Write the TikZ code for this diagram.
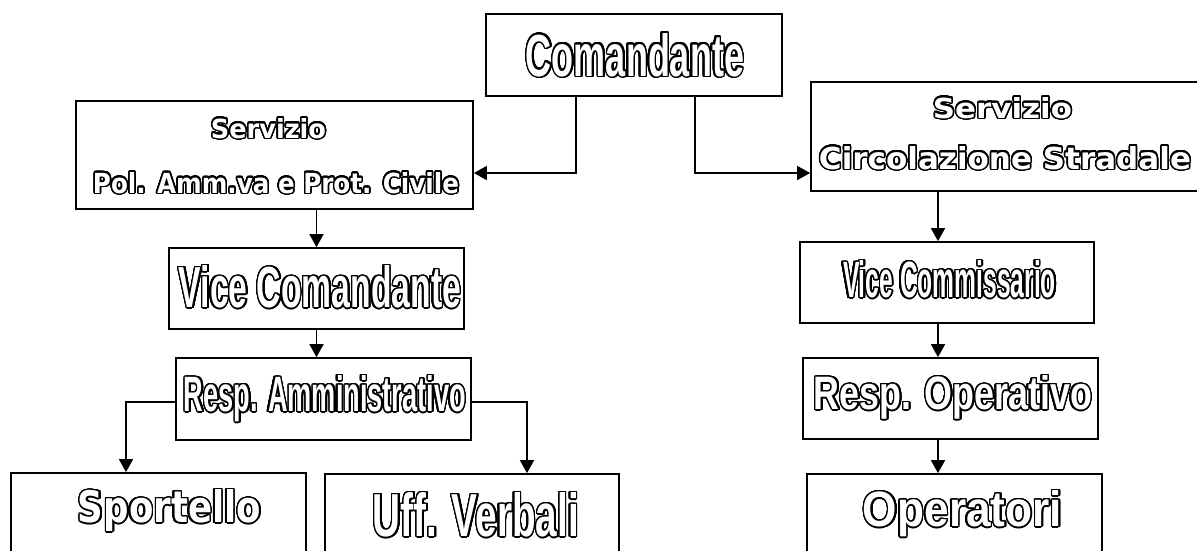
\documentclass[tikz,border=0pt]{standalone}
\usepackage{fontspec}
\usepackage{graphicx}
\usepackage[copies]{contour}
\usetikzlibrary{arrows.meta}
\newfontfamily\condfont{Liberation Sans}
\newfontfamily\widefont{DejaVu Sans}
\contourlength{1.5pt}
\contournumber{32}
% outlined text : width, height, raise, shift, text
\newcommand{\outl}[5]{\makebox[0pt]{\hspace*{#4}\raisebox{#3}[0pt][0pt]{\color{white}\contour{black}{\resizebox{#1}{#2}{#5}}}}}
\newcommand{\ctxt}[5]{\outl{#1}{#2}{#3}{#4}{\condfont\bfseries #5}}
\newcommand{\wtxt}[5]{\outl{#1}{#2}{#3}{#4}{\widefont\bfseries #5}}

\begin{document}
\begin{tikzpicture}[x=1pt,y=-1pt,
  box/.style={draw, line width=1.7pt, inner sep=0pt, minimum width=295pt, minimum height=82pt},
  conn/.style={line width=1.6pt, -{Triangle[length=13pt,width=14pt]}}]
\useasboundingbox (0,0) rectangle (1197,550);
\clip (0,0) rectangle (1197,550);
\node[box, minimum width=296pt] (com) at (634,55) {\ctxt{218pt}{43pt}{-21pt}{2pt}{Comandante}};
\node[box, minimum width=397pt, minimum height=108pt] (pol) at (274.5,155) {%
  \wtxt{115pt}{20pt}{17pt}{-12pt}{Servizio}%
  \wtxt{366pt}{21pt}{-38pt}{3pt}{Pol. Amm.va e Prot. Civile}};
\node[box, minimum width=388pt, minimum height=109pt] (circ) at (1005,136.5) {%
  \wtxt{139pt}{21pt}{18.5pt}{-5pt}{Servizio}%
  \wtxt{372pt}{23pt}{-32.5pt}{0pt}{Circolazione Stradale}};
\node[box, minimum height=81pt] (vcom) at (316.5,288.5) {\ctxt{282pt}{42pt}{-19pt}{7pt}{Vice Comandante}};
\node[box] (ramm) at (323.5,399) {\ctxt{282pt}{36pt}{-12.5pt}{3pt}{Resp. Amministrativo}};
\node[box] (spo) at (158.5,514) {\wtxt{183pt}{33pt}{-8.5pt}{22pt}{Sportello}};
\node[box, minimum width=294pt] (uff) at (472,515) {\ctxt{206pt}{44pt}{-21.5pt}{8pt}{Uff. Verbali}};
\node[box, minimum width=294pt, minimum height=81pt] (vcomm) at (947,282.5) {\ctxt{213pt}{37pt}{-15pt}{5pt}{Vice Commissario}};
\node[box, minimum height=81pt] (rop) at (950.5,398.5) {\ctxt{278pt}{34pt}{-11pt}{5pt}{Resp. Operativo}};
\node[box] (ope) at (954.5,515) {\ctxt{199pt}{36pt}{-11.5pt}{16pt}{Operatori}};
\draw[conn] ([xshift=-58pt]com.south) |- ([yshift=-18pt]pol.east);
\draw[conn] ([xshift=61pt]com.south) |- ([yshift=-36.5pt]circ.west);
\draw[conn] (vcom.north |- pol.south) -- (vcom.north);
\draw[conn] (vcom.south) -- (vcom.south |- ramm.north);
\draw[conn] ([yshift=-3pt]ramm.west) -| ([xshift=-32.5pt]spo.north);
\draw[conn] ([yshift=-3pt]ramm.east) -| ([xshift=55pt]uff.north);
\draw[conn] ([xshift=-67pt]circ.south) -- ([xshift=-9pt]vcomm.north);
\draw[conn] ([xshift=-9pt]vcomm.south) -- ([xshift=-12.5pt]rop.north);
\draw[conn] ([xshift=-12.5pt]rop.south) -- ([xshift=-16.5pt]ope.north);
\end{tikzpicture}
\end{document}
